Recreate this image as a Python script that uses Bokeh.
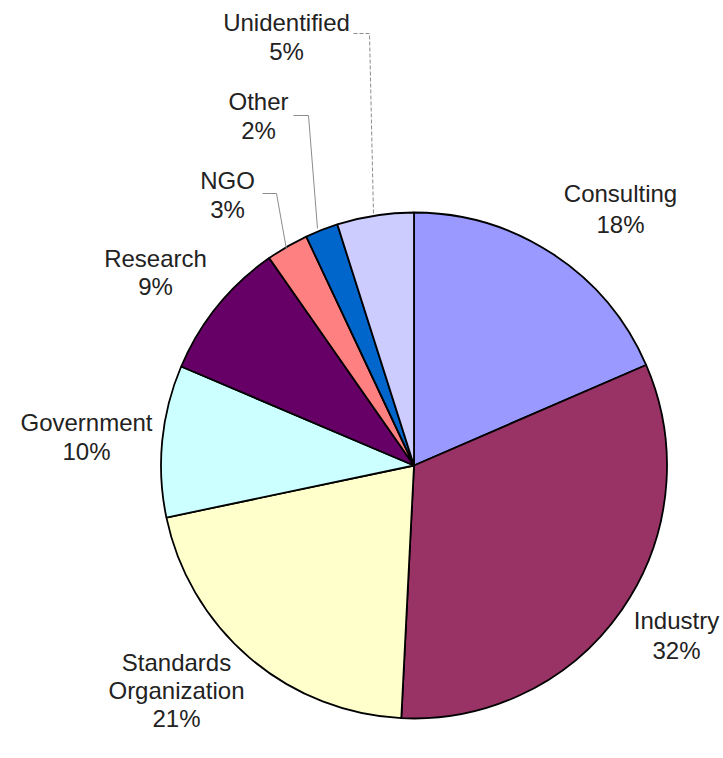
import math
from bokeh.plotting import figure
from bokeh.models import Range1d
from bokeh.core.properties import value
from bokeh.embed import file_html
from bokeh.resources import INLINE

# ---- data ----
categories = ["Consulting", "Industry", "Standards Organization", "Government",
              "Research", "NGO", "Other", "Unidentified"]
shares = [18.5, 32.3, 20.9, 9.7, 8.9, 2.7, 2.1, 4.9]
pct_labels = ["18%", "32%", "21%", "10%", "9%", "3%", "2%", "5%"]
colors = ["#9999FF", "#993366", "#FFFFCC", "#CCFFFF", "#660066", "#FF8080", "#0066CC", "#CCCCFF"]

# ---- layout (screen pixel coordinates, converted below) ----
W, H = 723, 758
cx, cy_s, R = 413.5, 465, 253

def sy(y):
    return H - y

p = figure(width=W, height=H, output_backend="svg", toolbar_location=None,
           x_range=Range1d(0, W), y_range=Range1d(0, H),
           min_border=0)
p.axis.visible = False
p.grid.visible = False
p.outline_line_color = None
p.background_fill_color = "white"

total = sum(shares)
starts, ends = [], []
cum = 0.0
for s in shares:
    a0 = math.pi / 2 - 2 * math.pi * (cum + s) / total
    a1 = math.pi / 2 - 2 * math.pi * cum / total
    starts.append(a0)
    ends.append(a1)
    cum += s

p.wedge(x=[cx] * len(shares), y=[sy(cy_s)] * len(shares), radius=R,
        start_angle=starts, end_angle=ends, fill_color=colors,
        line_color="black", line_width=1.8)

# label anchors (screen coords): one entry per category, list of line centres
label_pos = {
    "Consulting": (620, [193, 224]),
    "Industry": (676, [620, 650]),
    "Standards Organization": (176, [662, 690, 718]),
    "Government": (86, [422, 451]),
    "Research": (155, [258, 286]),
    "NGO": (227, [180, 209]),
    "Other": (258, [101, 130]),
    "Unidentified": (286, [22, 51]),
}
name_lines = {"Standards Organization": ["Standards", "Organization"]}

xs, ys, txt = [], [], []
for cat, pct in zip(categories, pct_labels):
    x, yl = label_pos[cat]
    lines = name_lines.get(cat, [cat]) + [pct]
    for t, y in zip(lines, yl):
        xs.append(x)
        ys.append(sy(y))
        txt.append(t)

p.text(x=xs, y=ys, text=txt, text_align="center", text_baseline="middle",
       text_font=value("Liberation Sans"), text_font_size="24px", text_color="#222222")

# leader lines
leaders = [
    ([262, 276, 286], [193, 193, 249], "solid"),
    ([293, 308, 317], [115, 115, 228], "solid"),
    ([353, 369, 373], [33, 33, 214], "4 2"),
]
for lx, ly, dash in leaders:
    p.line(x=lx, y=[sy(v) for v in ly], line_color="#8c8c8c", line_width=1,
           line_dash=dash)

open("out.html", "w").write(file_html(p, INLINE))
